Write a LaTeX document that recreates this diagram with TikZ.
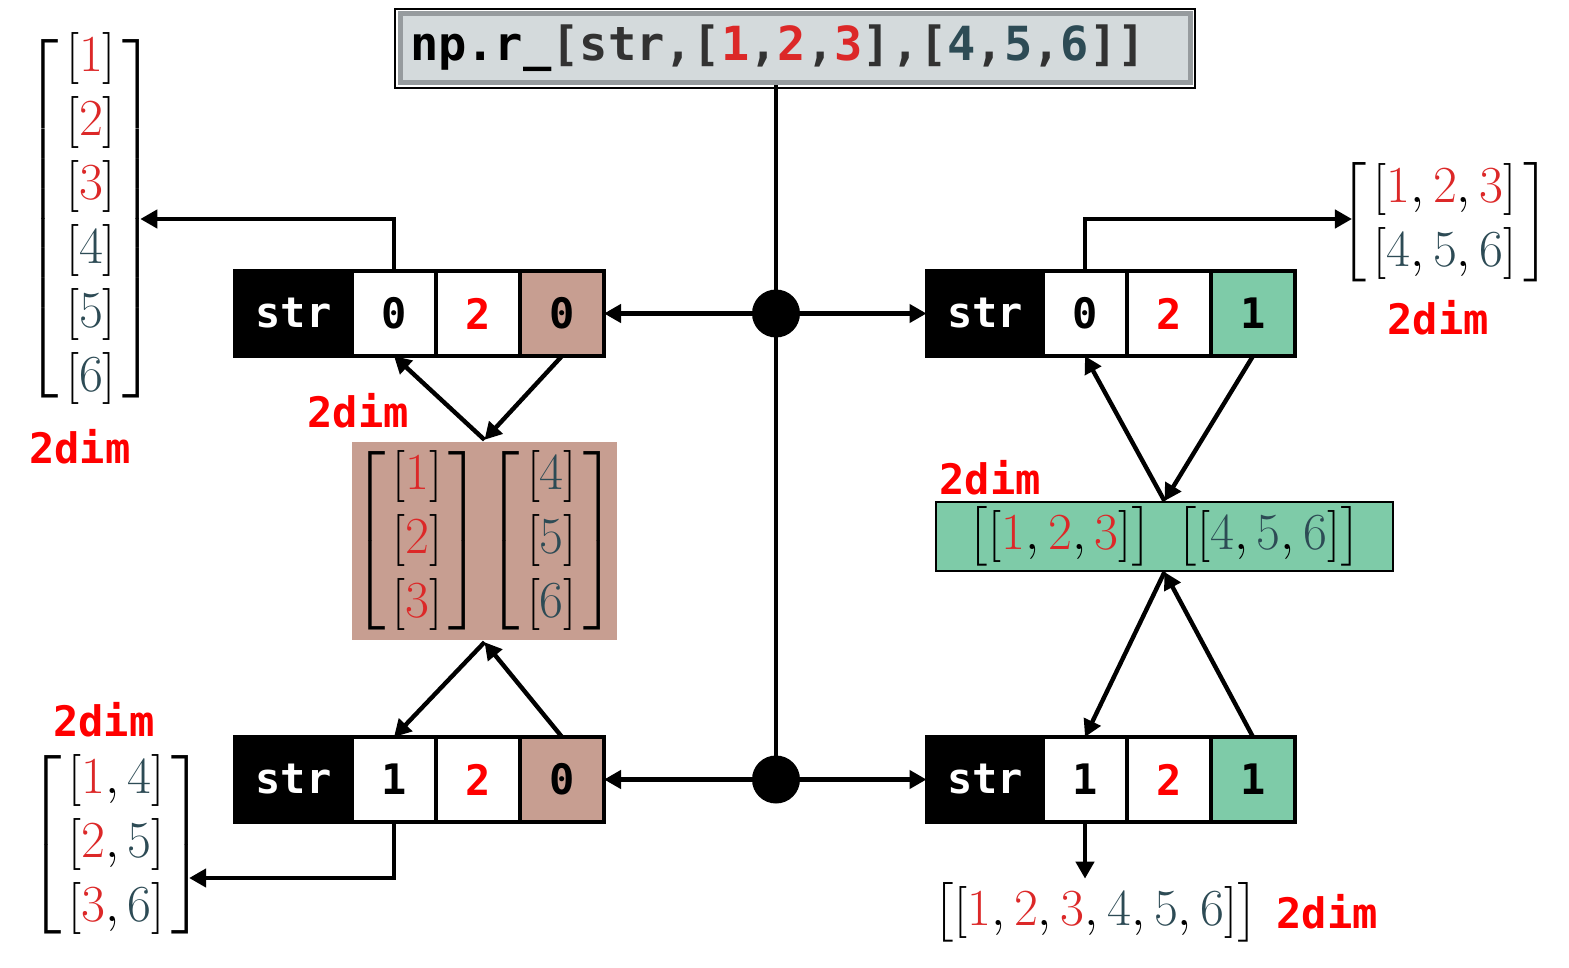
\RequirePackage{fix-cm}
\documentclass[tikz,border=0pt]{standalone}
\usepackage{amsmath}
\usepackage{fontspec}
\newfontfamily\codefont{DejaVu Sans Mono}
\usetikzlibrary{arrows.meta}
\definecolor{mred}{RGB}{220,40,40}
\definecolor{mslate}{RGB}{45,75,85}
\definecolor{cgray}{RGB}{50,50,50}
\definecolor{lred}{RGB}{255,0,0}
\definecolor{brownc}{RGB}{199,158,145}
\definecolor{greenc}{RGB}{126,203,168}
\definecolor{topfill}{RGB}{212,218,220}
\definecolor{topedge}{RGB}{150,155,158}
\newcommand{\cR}[1]{\textcolor{mred}{#1}}
\newcommand{\cS}[1]{\textcolor{mslate}{#1}}
\newcommand{\cG}[1]{\textcolor{cgray}{#1}}
\newcommand{\shortdelims}{\delimitershortfall=16pt\relax\delimiterfactor=900\relax}
\newcommand{\mybmat}[1]{\left[\begin{array}{@{\hspace{3.5pt}}c@{\hspace{3.5pt}}}#1\end{array}\right]}
\begin{document}
\begin{tikzpicture}[x=0.5pt,y=-0.5pt,
  line width=2.2pt,
  arr/.style={-{Triangle[length=8.5pt,width=9pt]}},
  cellbase/.style={draw=black, line width=1.6pt, minimum height=42.5pt, inner sep=0pt, outer sep=0pt,
    font=\codefont\bfseries\fontsize{21}{21}\selectfont},
  strcell/.style={cellbase, fill=black, text=white, minimum width=58.5pt},
  cell/.style={cellbase, fill=white, minimum width=42pt},
  dimlabel/.style={font=\codefont\bfseries\fontsize{21}{21}\selectfont, text=lred, inner sep=0pt},
  mat/.style={font=\fontsize{26}{32}\selectfont, inner sep=0pt},
  junction/.style={circle, fill=black, minimum size=24pt, inner sep=0pt},
  topbox/.style={fill=topfill, draw=topedge, line width=2.5pt, minimum width=395pt, minimum height=34.5pt,
    text width=385pt, align=left, inner sep=0pt,
    font=\codefont\bfseries\fontsize{23.5}{23.5}\selectfont}
]
\useasboundingbox (0,0) rectangle (1569,968);

% top command box
\node[topbox] (top) at (795,48.5) {np.r\_\cG{[str,[}\cR{1}\cG{,}\cR{2}\cG{,}\cR{3}\cG{],[}\cS{4}\cG{,}\cS{5}\cG{,}\cS{6}\cG{]]}};
\draw[black, line width=0.6pt] ([shift={(-1.25pt,1.25pt)}]top.north west) rectangle ([shift={(1.25pt,-1.25pt)}]top.south east);

% rows
\node[strcell] (TLs) at (293.5,313.5) {str};
\node[cell] (TL1) at (394,313.5) {0};
\node[cell, text=lred] (TL2) at (478,313.5) {2};
\node[cell, fill=brownc] (TL3) at (562,313.5) {0};

\node[strcell] (TRs) at (985,313.5) {str};
\node[cell] (TR1) at (1085,313.5) {0};
\node[cell, text=lred] (TR2) at (1169,313.5) {2};
\node[cell, fill=greenc] (TR3) at (1253,313.5) {1};

\node[strcell] (BLs) at (293.5,779.5) {str};
\node[cell] (BL1) at (394,779.5) {1};
\node[cell, text=lred] (BL2) at (478,779.5) {2};
\node[cell, fill=brownc] (BL3) at (562,779.5) {0};

\node[strcell] (BRs) at (985,779.5) {str};
\node[cell] (BR1) at (1085,779.5) {1};
\node[cell, text=lred] (BR2) at (1169,779.5) {2};
\node[cell, fill=greenc] (BR3) at (1253,779.5) {1};

% intermediate boxes
\node[mat, fill=brownc, minimum width=129.5pt, minimum height=99pt] (brown) at (484.5,541)
  {$\shortdelims\mybmat{{[}\cR{1}]\\{[}\cR{2}]\\{[}\cR{3}]}\hspace{-2pt}\mybmat{{[}\cS{4}]\\{[}\cS{5}]\\{[}\cS{6}]}$};
\node[mat, fill=greenc, draw=black, line width=1pt, minimum width=228.5pt, minimum height=34.5pt] (green) at (1164.5,536.5)
  {$\bigl[{[}\cR{1},\cR{2},\cR{3}]\bigr]\hspace{12pt}\bigl[{[}\cS{4},\cS{5},\cS{6}]\bigr]$};

% result matrices
\node[mat] (Lmat) at (91,219)
  {$\shortdelims\mybmat{{[}\cR{1}]\\{[}\cR{2}]\\{[}\cR{3}]\\{[}\cS{4}]\\{[}\cS{5}]\\{[}\cS{6}]}$};
\node[mat] (TRmat) at (1445,222)
  {$\shortdelims\mybmat{{[}\cR{1},\cR{2},\cR{3}]\\{[}\cS{4},\cS{5},\cS{6}]}$};
\node[mat] (BLmat) at (116.5,845)
  {$\shortdelims\mybmat{{[}\cR{1},\cS{4}]\\{[}\cR{2},\cS{5}]\\{[}\cR{3},\cS{6}]}$};
\node[mat] (BRmat) at (1096,912)
  {$\bigl[{[}\cR{1},\cR{2},\cR{3},\cS{4},\cS{5},\cS{6}]\bigr]$};

% labels
\node[dimlabel] (d1) at (80,447) {2dim};
\node[dimlabel] (d2) at (358,411) {2dim};
\node[dimlabel] (d3) at (104,720) {2dim};
\node[dimlabel] (d4) at (1438,318) {2dim};
\node[dimlabel] (d5) at (990,478) {2dim};
\node[dimlabel] (d6) at (1327,912) {2dim};

% trunk and junctions
\coordinate (J1) at (776,313.5);
\coordinate (J2) at (776,779.5);
\draw (J1 |- top.south) -- (J2);
\draw[arr] (J1) -- (TL3.east);
\draw[arr] (J1) -- (TRs.west);
\draw[arr] (J2) -- (BL3.east);
\draw[arr] (J2) -- (BRs.west);
\node[junction] (J1c) at (J1) {};
\node[junction] (J2c) at (J2) {};

% outputs
\draw[arr] (TL1.north) |- ([xshift=-9pt]Lmat.east);
\draw[arr] (TR1.north) |- ([xshift=7pt,yshift=1.5pt]TRmat.west);
\draw[arr] (BL1.south) |- ([xshift=-9pt,yshift=-16.5pt]BLmat.east);
\draw[arr] (BR1.south) -- (BR1.south |- BRmat.north);

% diagonals
\draw[arr] (brown.north) -- (TL1.south);
\draw[arr] (TL3.south) -- (brown.north);
\draw[arr] (brown.south) -- (BL1.north);
\draw[arr] (BL3.north) -- (brown.south);
\draw[arr] (green.north) -- (TR1.south);
\draw[arr] (TR3.south) -- (green.north);
\draw[arr] (green.south) -- (BR1.north);
\draw[arr] (BR3.north) -- (green.south);
\end{tikzpicture}
\end{document}
